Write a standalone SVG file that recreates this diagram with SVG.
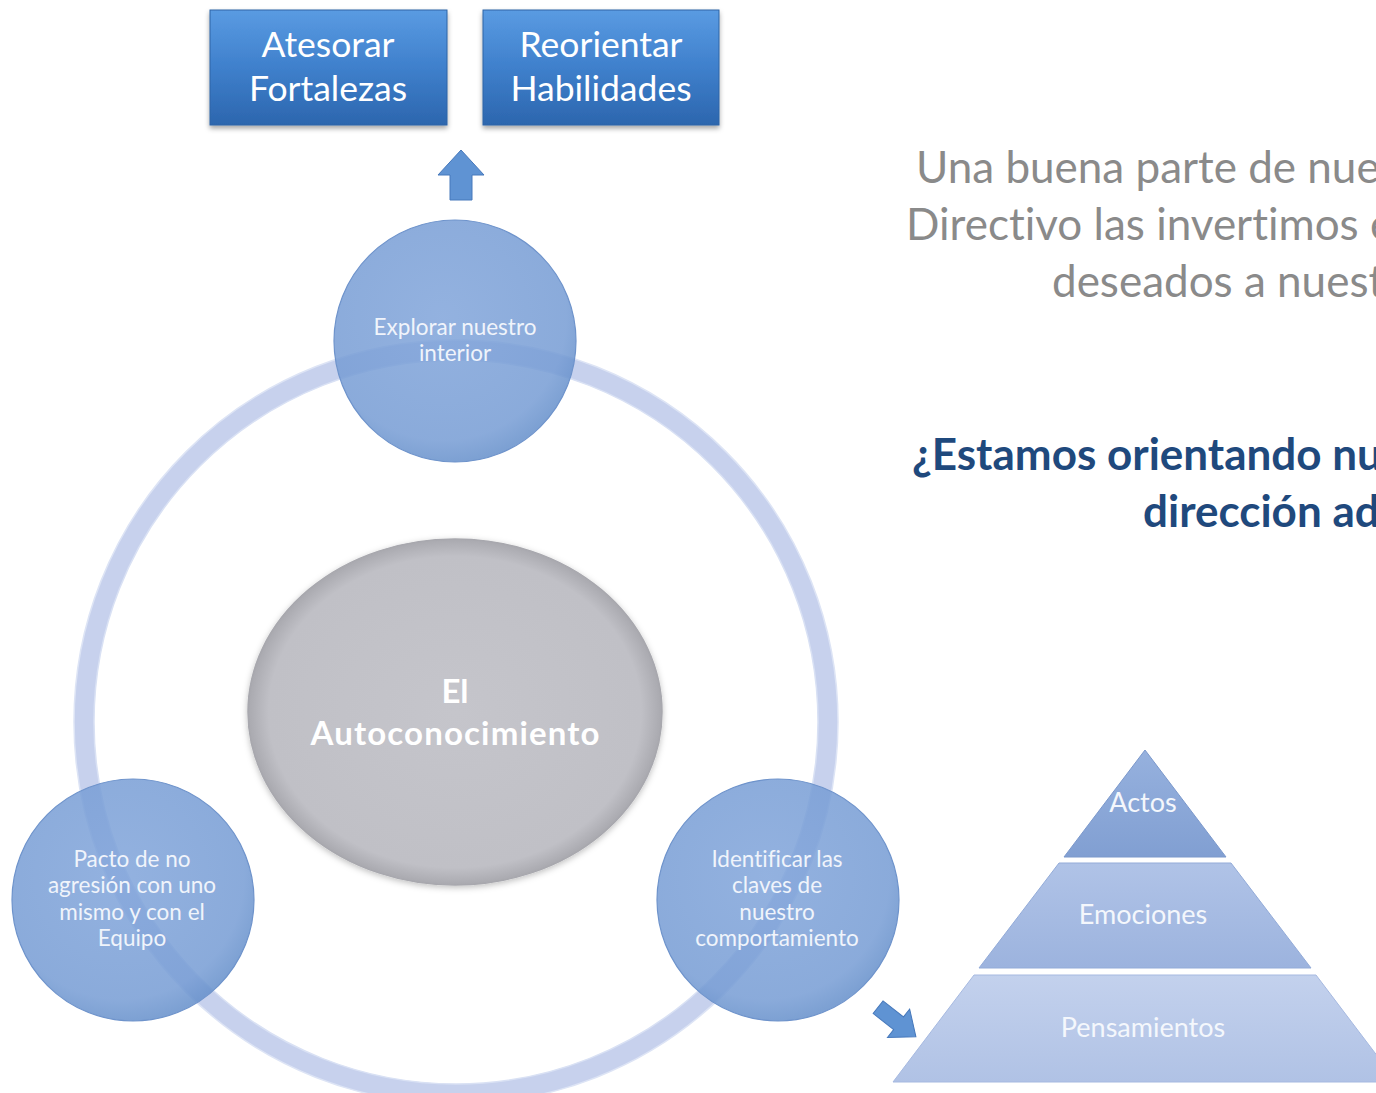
<svg xmlns="http://www.w3.org/2000/svg" width="1376" height="1093" viewBox="0 0 1376 1093">
<defs>
<linearGradient id="boxG" x1="0" y1="0" x2="0" y2="1">
<stop offset="0" stop-color="#5a9be2"/><stop offset="0.5" stop-color="#3f80cc"/><stop offset="1" stop-color="#2c66ae"/>
</linearGradient>
<radialGradient id="circG" cx="0.45" cy="0.4" r="0.6">
<stop offset="0" stop-color="#80a4da"/><stop offset="0.85" stop-color="#769cd4"/><stop offset="1" stop-color="#6690cb"/>
</radialGradient>
<radialGradient id="ellG" cx="0.5" cy="0.5" r="0.5">
<stop offset="0" stop-color="#c5c5cb"/><stop offset="0.9" stop-color="#c0c0c6"/><stop offset="1" stop-color="#a9a9af"/>
</radialGradient>
<linearGradient id="t1" x1="0" y1="0" x2="0" y2="1"><stop offset="0" stop-color="#96b1de"/><stop offset="1" stop-color="#819fd2"/></linearGradient>
<linearGradient id="t2" x1="0" y1="0" x2="0" y2="1"><stop offset="0" stop-color="#b0c3e7"/><stop offset="1" stop-color="#9cb3de"/></linearGradient>
<linearGradient id="t3" x1="0" y1="0" x2="0" y2="1"><stop offset="0" stop-color="#c3d1ed"/><stop offset="1" stop-color="#b0c2e5"/></linearGradient>
<filter id="sh" x="-10%" y="-10%" width="130%" height="140%"><feDropShadow dx="0" dy="3" stdDeviation="2.5" flood-color="#000" flood-opacity="0.35"/></filter>
<filter id="sh2" x="-10%" y="-10%" width="130%" height="130%"><feDropShadow dx="0" dy="2" stdDeviation="3" flood-color="#000" flood-opacity="0.25"/></filter>
</defs>
<style>
text{font-family:Lato,"Open Sans","Liberation Sans",sans-serif;text-anchor:middle;font-variant-ligatures:none}
.box{fill:url(#boxG);stroke:#2f64a6;stroke-width:1;filter:url(#sh)}
.boxt{fill:#ffffff;font-size:35.5px}
.circ{fill:url(#circG);fill-opacity:0.85;stroke:#6e93cb;stroke-width:1.2}
.ct{fill:#f0f4fb;font-size:22.5px}
.arr{fill:#5f93d3;stroke:#4678bb;stroke-width:1}
.pt{fill:#f4f7fc;font-size:27px}
.gray{fill:#8a8a8a;font-size:44px;text-anchor:start}
.q{fill:#1f497d;font-size:44px;font-weight:bold;text-anchor:start}
</style>
<rect width="1376" height="1093" fill="#ffffff"/>

<g id="connectors">
<circle cx="456" cy="722" r="372" fill="none" stroke="#c7d1ed" stroke-width="20"/>
<circle cx="456" cy="722" r="382" fill="none" stroke="#dde4f5" stroke-width="1.5"/>
<circle cx="456" cy="722" r="362" fill="none" stroke="#d9e1f4" stroke-width="1.5"/>
<path class="arr" d="M461,150 L484,175 L472,175 L472,200 L450,200 L450,175 L438,175 Z"/>
<path class="arr" transform="translate(897,1022) rotate(38)" d="M-24,-8 L2,-8 L2,-18 L24,0 L2,18 L2,8 L-24,8 Z"/>
</g>

<g id="node-atesorar">
<rect class="box" x="210" y="10" width="237" height="115"/>
<text class="boxt" x="328" y="57">Atesorar</text>
<text class="boxt" x="328" y="101">Fortalezas</text>
</g>
<g id="node-reorientar">
<rect class="box" x="483" y="10" width="236" height="115"/>
<text class="boxt" x="601" y="57">Reorientar</text>
<text class="boxt" x="601" y="101">Habilidades</text>
</g>

<g id="node-autoconocimiento">
<ellipse cx="455" cy="712" rx="207" ry="173" fill="url(#ellG)" stroke="#a8a8ae" stroke-width="1.5" filter="url(#sh2)"/>
<text x="455" y="703" fill="#ffffff" font-size="33" font-weight="bold">El</text>
<text x="455" y="745" fill="#ffffff" font-size="33" font-weight="bold" textLength="289" lengthAdjust="spacing">Autoconocimiento</text>
</g>

<g id="node-explorar">
<circle class="circ" cx="455" cy="341" r="121"/>
<text class="ct" x="455" y="335">Explorar nuestro</text>
<text class="ct" x="455" y="361">interior</text>
</g>
<g id="node-pacto">
<circle class="circ" cx="133" cy="900" r="121"/>
<text class="ct" x="132" y="867">Pacto de no</text>
<text class="ct" x="132" y="893">agresión con uno</text>
<text class="ct" x="132" y="920">mismo y con el</text>
<text class="ct" x="132" y="946">Equipo</text>
</g>
<g id="node-identificar">
<circle class="circ" cx="778" cy="900" r="121"/>
<text class="ct" x="777" y="867">Identificar las</text>
<text class="ct" x="777" y="893">claves de</text>
<text class="ct" x="777" y="920">nuestro</text>
<text class="ct" x="777" y="946">comportamiento</text>
</g>

<g id="node-piramide">
<polygon points="1145,750 1226,857 1064,857" fill="url(#t1)" stroke="#7b98cb" stroke-width="1"/>
<polygon points="1059,863 1231,863 1311,968 979,968" fill="url(#t2)" stroke="#93abd8" stroke-width="1"/>
<polygon points="974,975 1316,975 1397,1082 893,1082" fill="url(#t3)" stroke="#a6b9e0" stroke-width="1"/>
<text class="pt" x="1143" y="812">Actos</text>
<text class="pt" x="1143" y="924">Emociones</text>
<text class="pt" x="1143" y="1037">Pensamientos</text>
</g>

<g id="texto">
<text class="gray" x="916" y="183">Una buena parte de nue</text>
<text class="gray" x="906" y="240">Directivo las invertimos e</text>
<text class="gray" x="1052" y="297">deseados a nuest</text>
<text class="q" x="912" y="470">¿Estamos orientando nu</text>
<text class="q" x="1143" y="527">dirección ad</text>
</g>
</svg>
